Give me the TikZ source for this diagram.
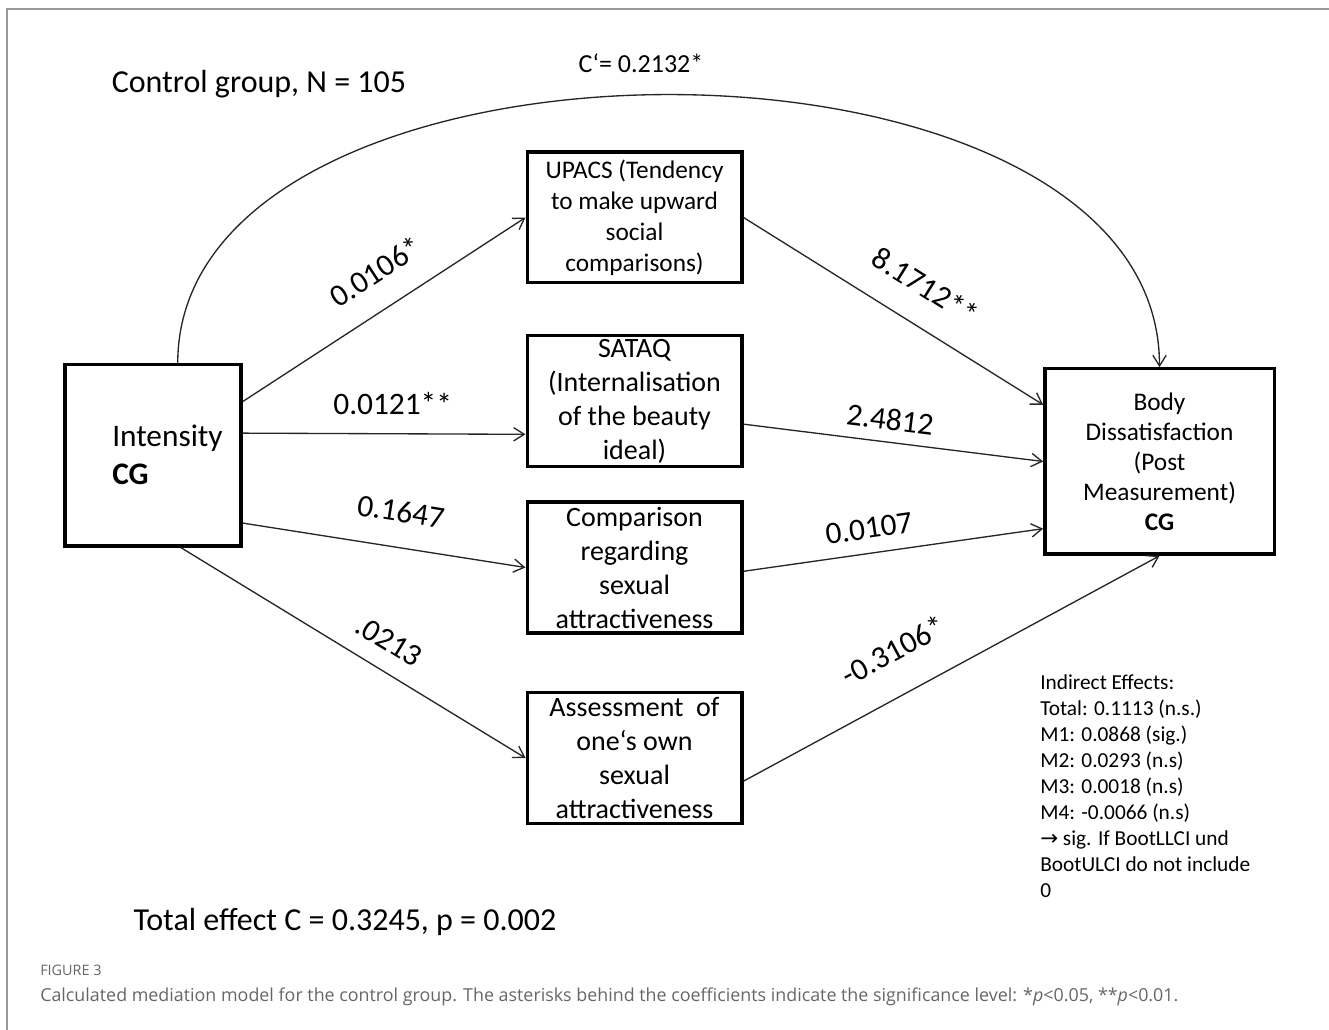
\documentclass[tikz,border=0pt]{standalone}
\usepackage{fontspec}
\setmainfont{Carlito}
\newfontfamily\capfont{Open Sans}
\newfontfamily\symfont{DejaVu Sans}
\usetikzlibrary{arrows.meta}

\begin{document}
\begin{tikzpicture}[x=0.75pt,y=-0.75pt,
  box/.style={draw,line width=2.5pt,inner sep=0pt,align=center},
  medbox/.style={box,minimum width=161pt,minimum height=98pt,font=\fontsize{21}{25.5}\selectfont},
  arr/.style={line width=1pt,black!85,-{Straight Barb[length=8pt,width=10pt]}},
  coef/.style={sloped,inner sep=0pt,text=black,font=\fontsize{23.5}{28}\selectfont}]
  \useasboundingbox (0,0) rectangle (1329,1030);
  \draw[black!40,line width=1.5pt] (7,1030) -- (7,9) -- (1329,9);

  % predictor, mediators, outcome
  \node[box,minimum width=132pt,minimum height=136pt] (ind) at (153,455.5) {};
  \node[anchor=west,align=left,inner sep=0pt,font=\fontsize{23.5}{28.5}\selectfont] (indtxt) at (112,455) {Intensity\\\textbf{CG}};
  \node[medbox,font=\fontsize{19}{23.25}\selectfont] (upacs) at (634.5,217.5) {UPACS (Tendency\\to make upward\\social\\comparisons)};
  \node[medbox] (sataq) at (634.5,401) {SATAQ\\(Internalisation\\of the beauty\\ideal)};
  \node[medbox] (comp) at (634.5,567.5) {Comparison\\regarding\\sexual\\attractiveness};
  \node[medbox] (assess) at (634.5,758) {Assessment\ \ of\\one‘s own\\sexual\\attractiveness};
  \node[box,minimum width=172pt,minimum height=139pt,font=\fontsize{19}{22.5}\selectfont] (body) at (1159.5,461.5) {Body\\Dissatisfaction\\(Post\\Measurement)\\\textbf{CG}};

  \path[arr]
    (ind.31) edge node[coef,pos=.54,above=18.5pt] {0.0106*} (upacs.west)
    (ind.14) edge node[coef,pos=.53,above=13.5pt] {0.0121**} (sataq.197)
    (ind.-37) edge node[coef,pos=.54,above=18.5pt] {0.1647} (comp.west)
    (ind.-73) edge node[coef,pos=.56,above=13.3pt] {.0213} (assess.west)
    (upacs.east) edge node[coef,pos=.54,above=20pt] {8.1712**} (body.154)
    (sataq.-12) edge node[coef,pos=.48,above=8.6pt] {2.4812} (body.west)
    (comp.-2) edge node[coef,pos=.43,above=10.5pt] {0.0107} (body.210)
    (assess.-12) edge node[coef,pos=.41,above=24pt] {-0.3106*} (body.south);
  \draw[arr] (ind.75) .. controls +(0,-357) and +(0,-364) .. (body.north);

  \node[font=\fontsize{19.5}{23}\selectfont] (cprime) at (641,63) {C‘= 0.2132*};
  \node[font=\fontsize{24}{28}\selectfont] (group) at (259,84) {Control group, N = 105};
  \node[font=\fontsize{24}{28}\selectfont] (total) at (345,922) {Total effect C = 0.3245, p = 0.002};
  \node[anchor=north west,align=left,inner sep=0pt,font=\fontsize{16}{19.5}\selectfont] (indirect) at (1040,674)
    {Indirect Effects:\\Total: 0.1113 (n.s.)\\M1: 0.0868 (sig.)\\M2: 0.0293 (n.s)\\M3: 0.0018 (n.s)\\M4: -0.0066 (n.s)\\{\symfont →} sig. If BootLLCI und\\BootULCI do not include\\0};

  % caption
  \node[anchor=west,inner sep=0pt,text=black!60,font=\capfont\fontsize{10.8}{12}\selectfont] (fig) at (40,970) {FIGURE 3};
  \node[anchor=west,inner sep=0pt,text=black!60,font=\capfont\fontsize{13.4}{15}\selectfont] (caption) at (40,997)
    {Calculated mediation model for the control group. The asterisks behind the coefficients indicate the significance level: *\textit{p}<0.05, **\textit{p}<0.01.};
\end{tikzpicture}
\end{document}
